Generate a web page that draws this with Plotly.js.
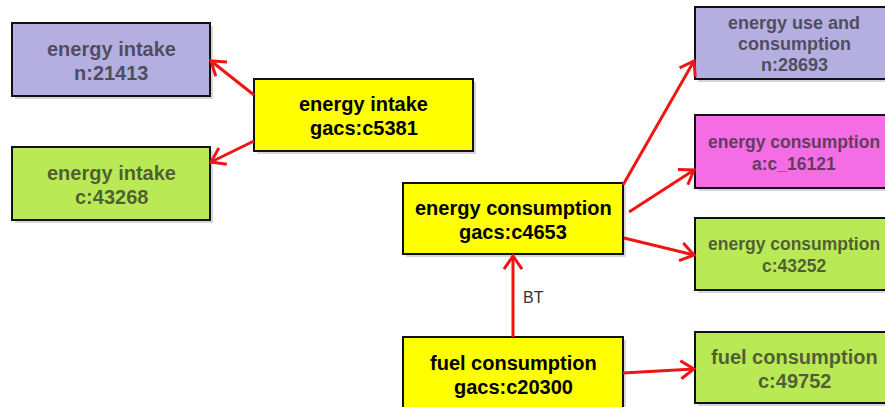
<!DOCTYPE html>
<html><head><meta charset="utf-8">
<script src="https://cdn.plot.ly/plotly-3.0.1.min.js"></script>
<style>html,body{margin:0;padding:0;background:#fff}#chart{width:885px;height:407px}</style>
</head><body><div id="chart"></div>
<script>
// ---- diagram data ----
const nodeTerms = ["energy intake","energy intake","energy intake","energy consumption","energy use and|consumption","energy consumption","energy consumption","fuel consumption","fuel consumption"];
const nodeIds   = ["n:21413","c:43268","gacs:c5381","gacs:c4653","n:28693","a:c_16121","c:43252","c:49752","gacs:c20300"];
const nodeKinds = ["n","c","gacs","gacs","n","a","c","c","gacs"];
const edgeFrom  = [2,2,3,3,3,8,8];
const edgeTo    = [0,1,4,5,6,7,3];
const edgeLabels= ["","","","","","","BT"];

// ---- layout geometry (pixels in a 885x407 frame) ----
const boxGeom = [
  [12,210,23,96],[12,210,147,220],[254,473,79,151],[403,623,183,254],
  [695,893,7,79],[695,893,115,188],[695,893,218,290],[695,893,332,403],[403,623,337,411]
];
const edgeGeom = [
  [254,95,211,61],[254,141,211,162],[623,185,694,61],[629,212,694,170],
  [624,238,694,255],[623,373,694,369],[513,337,513,256]
];
const fontSizes = [20,20,20,20,18,17.5,17.5,20,20];
const lineGaps  = [24,24,24,24,21,22,22,24,24];
const kindFill = {n:"#b4aee1", c:"#b9e955", a:"#f46de4", gacs:"#ffff00"};
const kindText = {n:"rgba(40,40,40,0.72)", c:"rgba(40,40,40,0.72)", a:"rgba(40,40,40,0.72)", gacs:"#000000"};
const RED = "#ee1515";
const FONT = "Liberation Sans, Arial, sans-serif";

const shapes = [], annotations = [];
// edges
edgeFrom.forEach((f,i)=>{
  const [x0,y0,x1,y1] = edgeGeom[i];
  shapes.push({type:"line",xref:"x",yref:"y",x0,y0,x1,y1,line:{color:RED,width:3},layer:"above"});
  const dx=x1-x0, dy=y1-y0, L=Math.hypot(dx,dy), ux=dx/L, uy=dy/L;
  const arm=16, ang=0.6;
  const c=Math.cos(ang), s=Math.sin(ang);
  const ax1 = x1 - arm*(ux*c - uy*s), ay1 = y1 - arm*(uy*c + ux*s);
  const ax2 = x1 - arm*(ux*c + uy*s), ay2 = y1 - arm*(uy*c - ux*s);
  shapes.push({type:"path",xref:"x",yref:"y",path:`M${ax1},${ay1} L${x1},${y1} L${ax2},${ay2}`,line:{color:RED,width:3},layer:"above"});
  if(edgeLabels[i]){
    annotations.push({x:(x0+x1)/2+20,y:(y0+y1)/2+1,xref:"x",yref:"y",text:edgeLabels[i],showarrow:false,
      font:{family:FONT,size:16,color:"#333"}});
  }
});
// nodes
nodeTerms.forEach((t,i)=>{
  const [x0,x1,y0,y1]=boxGeom[i];
  shapes.push({type:"rect",xref:"x",yref:"y",x0:x0+3,x1:x1+3,y0:y0+3,y1:y1+3,fillcolor:"rgba(0,0,0,0.16)",line:{width:0},layer:"below"});
  shapes.push({type:"rect",xref:"x",yref:"y",x0,x1,y0,y1,fillcolor:kindFill[nodeKinds[i]],line:{color:"#111",width:2},layer:"below"});
  const lines = t.split("|").concat([nodeIds[i]]);
  const cy = (y0+y1)/2 + 1, g = lineGaps[i];
  lines.forEach((ln,k)=>{
    annotations.push({x:(x0+x1)/2,y:cy+(k-(lines.length-1)/2)*g,xref:"x",yref:"y",showarrow:false,
      text:"<b>"+ln+"</b>",align:"center",
      font:{family:FONT,size:fontSizes[i],color:kindText[nodeKinds[i]]}});
  });
});

const layout = {
  width:885,height:407,margin:{l:0,r:0,t:0,b:0},
  paper_bgcolor:"#fff",plot_bgcolor:"#fff",
  xaxis:{range:[0,885],visible:false,fixedrange:true},
  yaxis:{range:[407,0],visible:false,fixedrange:true},
  shapes,annotations,showlegend:false
};
Plotly.newPlot("chart",[{x:[],y:[],type:"scatter"}],layout,{displayModeBar:false,staticPlot:true});
</script></body></html>
